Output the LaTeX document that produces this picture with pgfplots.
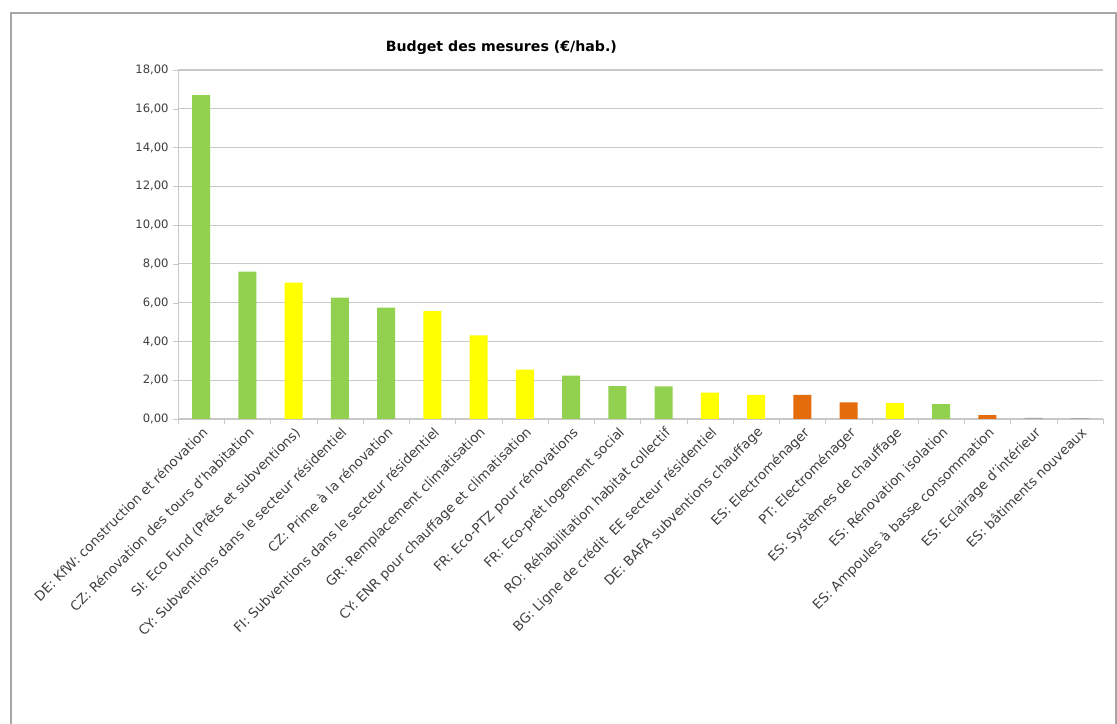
\documentclass[border=0pt]{standalone}
\usepackage{pgfplots}
\pgfplotsset{compat=1.18}
\usepackage{fontspec}
\setmainfont{DejaVu Sans}
\definecolor{cgreen}{HTML}{92D050}
\definecolor{cyellow}{HTML}{FFFF00}
\definecolor{corange}{HTML}{E46C0A}
\definecolor{cgrey}{HTML}{A6A6A6}
\definecolor{gridc}{HTML}{C8C8C8}
\begin{document}
\begin{tikzpicture}
\useasboundingbox (0pt,0pt) rectangle (837.75pt,543pt);
\fill[white] (0pt,0pt) rectangle (837.75pt,543pt);
\draw[color=black!35, line width=1.4pt] (8.5pt,-10pt) rectangle (837pt,533pt);
\node[font=\bfseries\fontsize{10.6}{12}\selectfont] at (376pt,507.5pt) {Budget des mesures (€/hab.)};
\begin{axis}[
  at={(133.5pt,228.75pt)}, anchor=south west,
  scale only axis, width=693.75pt, height=261.75pt,
  ymin=0, ymax=18, xmin=-0.5, xmax=19.5,
  ybar, bar width=13.5pt,
  axis lines=left, axis line style={-, draw=gridc},
  ytick={0,2,...,18},
  ymajorgrids, grid style={gridc, line width=0.8pt},
  tick align=outside,
  major tick length=3.5pt,
  y tick style={draw=gridc},
  xtick={0,...,19},
  major x tick style={draw=none},
  minor xtick={-0.5,0.5,...,19.5},
  minor x tick style={draw=gridc},
  minor tick length=3.5pt,
  yticklabel style={font=\fontsize{8.7}{10}\selectfont, color=black!75, /pgf/number format/.cd, fixed, fixed zerofill, precision=2, use comma, assume math mode=true},
  xticklabel style={font=\fontsize{10}{11}\selectfont, color=black!75, rotate=45, anchor=north east, inner sep=1pt},
  xticklabels={
    {DE: KfW: construction et rénovation},
    {CZ: Rénovation des tours d'habitation},
    {SI: Eco Fund (Prêts et subventions)},
    {CY: Subventions dans le secteur résidentiel},
    {CZ: Prime à la rénovation},
    {FI: Subventions dans le secteur résidentiel},
    {GR: Remplacement climatisation},
    {CY: ENR pour chauffage et climatisation},
    {FR: Eco-PTZ pour rénovations},
    {FR: Eco-prêt logement social},
    {RO: Réhabilitation habitat collectif},
    {BG: Ligne de crédit \ EE secteur résidentiel},
    {DE: BAFA subventions chauffage},
    {ES: Electroménager},
    {PT: Electroménager},
    {ES: Systèmes de chauffage},
    {ES: Rénovation isolation},
    {ES: Ampoules à basse consommation},
    {ES: Eclairage d'intérieur},
    {ES: bâtiments nouveaux}},
  every axis plot/.append style={bar shift=0pt, draw=none},
  clip=false,
]
\addplot[fill=cgreen] coordinates {(0,16.70) (1,7.60) (3,6.26) (4,5.74) (8,2.24) (9,1.70) (10,1.68) (16,0.77)};
\addplot[fill=cyellow] coordinates {(2,7.03) (5,5.57) (6,4.31) (7,2.55) (11,1.36) (12,1.25) (15,0.82)};
\addplot[fill=corange] coordinates {(13,1.24) (14,0.86) (17,0.20)};
\addplot[fill=cgrey] coordinates {(18,0.06) (19,0.04)};
\end{axis}
\end{tikzpicture}
\end{document}
